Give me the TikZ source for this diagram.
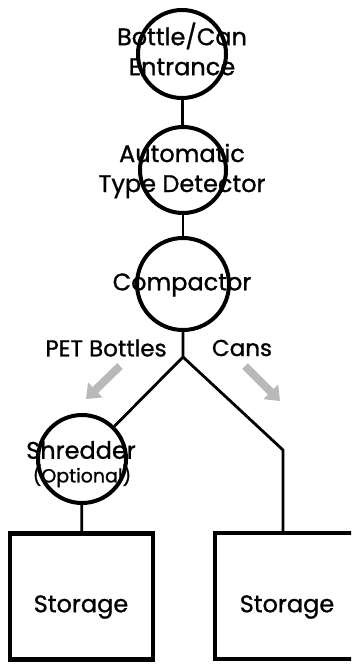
\documentclass[tikz,border=0pt]{standalone}
\usepackage{fontspec}
\setmainfont{Poppins}[FakeBold=1]
\usetikzlibrary{arrows.meta}

\begin{document}
\begin{tikzpicture}[x=1pt,y=-1pt,
  station/.style={circle,draw,line width=4pt,minimum size=#1,inner sep=0pt},
  tag/.style={align=center,font=\fontsize{24}{30}\selectfont},
  bin/.style={draw,line width=4.5pt,minimum width=143pt,minimum height=126pt,inner sep=0pt},
  flowarrow/.style={line width=8pt,draw=gray!55,-{Triangle[length=13pt,width=20pt]}}]
\useasboundingbox (0,0) rectangle (351,664);
\clip (0,0) rectangle (351,664);
\node [station=88pt] (entrance) at (182,54) {};
\node [tag] at (182,49) {Bottle/Can\\Entrance};
\node [station=86pt] (detector) at (183,170) {};
\node [tag] at (182,171) {Automatic\\Type Detector};
\node [station=92pt] (compactor) at (183,284) {};
\node [tag] at (182,285) {Compactor};
\node [station=88pt] (shredder) at (82,459) {};
\node [tag,inner sep=1pt] at (81,450) {Shredder};
\node [tag,inner sep=1pt,font=\fontsize{19}{24}\selectfont] at (82,476) {(Optional)};
\node [bin] (petbin) at (81.5,596.5) {};
\node [tag] at (81,607) {Storage};
\node [bin,minimum width=150pt] (canbin) at (290,596) {};
\node [tag] at (287,607) {Storage};
\coordinate (fork) at (183,357);
\coordinate (bend) at (283,450);
\draw [line width=2.8pt] (entrance) -- (detector);
\draw [line width=2.8pt] (detector) -- (compactor);
\draw [line width=2.8pt] (compactor) -- (fork) -- (shredder);
\draw [line width=2.8pt] (fork) -- (bend) -- (bend |- canbin.north);
\draw [line width=2.8pt] (shredder) -- (petbin);
\node [tag,font=\fontsize{23}{28}\selectfont] (petlabel) at (106,348) {PET Bottles};
\node [tag,font=\fontsize{23}{28}\selectfont] (canlabel) at (242,348) {Cans};
\draw [flowarrow] (120,366) -- (86,399);
\draw [flowarrow] (245,366) -- (280,401);
\end{tikzpicture}
\end{document}
